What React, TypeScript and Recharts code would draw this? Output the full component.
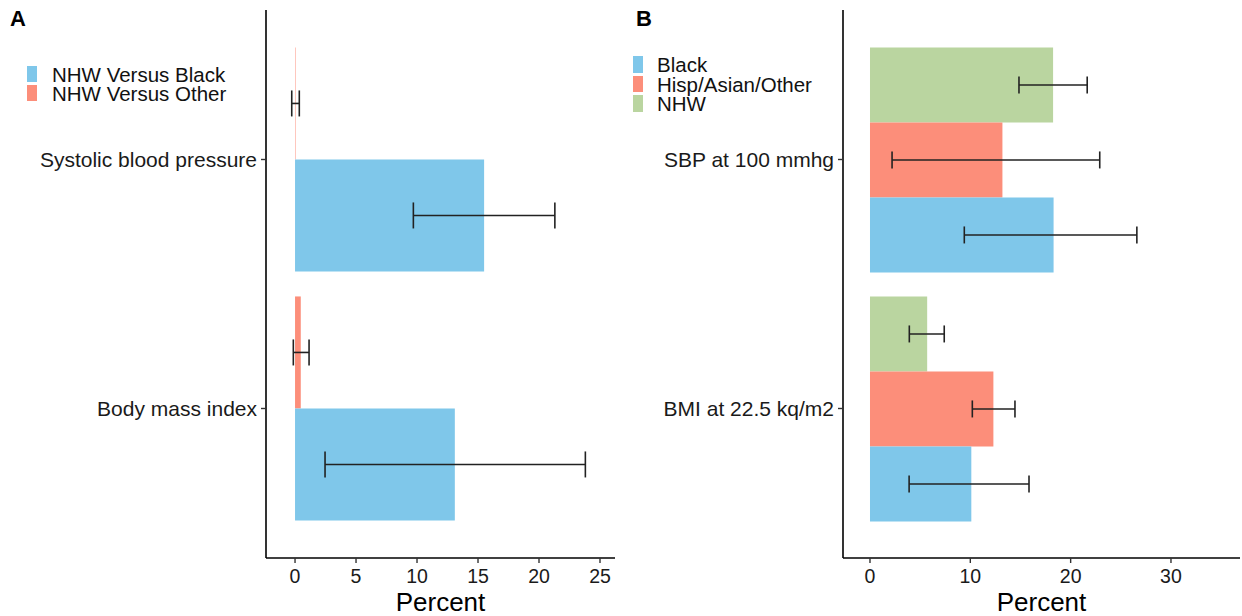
import React from 'react';
import { BarChart, Bar, XAxis, YAxis, ErrorBar, Label } from 'recharts';

// ---------- Panel A data ----------
const catsA = ['Systolic blood pressure', 'Body mass index'];
const namesA = ['NHW Versus Black', 'NHW Versus Other'];
const aBlackVal = [15.5, 13.1];
const aBlackLow = [9.7, 2.46];
const aBlackHigh = [21.3, 23.8];
const aOtherVal = [0.04, 0.47];
const aOtherLow = [-0.27, -0.14];
const aOtherHigh = [0.35, 1.15];
const ticksA = [0, 5, 10, 15, 20, 25];

// ---------- Panel B data ----------
const catsB = ['SBP at 100 mmhg', 'BMI at 22.5 kq/m2'];
const namesB = ['Black', 'Hisp/Asian/Other', 'NHW'];
const bBlackVal = [18.3, 10.1];
const bBlackLow = [9.4, 3.9];
const bBlackHigh = [26.6, 15.85];
const bHispVal = [13.2, 12.3];
const bHispLow = [2.2, 10.2];
const bHispHigh = [22.9, 14.45];
const bNhwVal = [18.25, 5.7];
const bNhwLow = [14.85, 3.92];
const bNhwHigh = [21.65, 7.4];
const ticksB = [0, 10, 20, 30];

const BLUE = '#7FC7EA';
const SALMON = '#FC8E7A';
const GREEN = '#BAD5A0';
const FONT = '"Liberation Sans", Arial, sans-serif';

const dataA = catsA.map((cat, i) => ({
  cat,
  black: aBlackVal[i],
  blackErr: [aBlackVal[i] - aBlackLow[i], aBlackHigh[i] - aBlackVal[i]],
  other: aOtherVal[i],
  otherErr: [aOtherVal[i] - aOtherLow[i], aOtherHigh[i] - aOtherVal[i]],
}));

const dataB = catsB.map((cat, i) => ({
  cat,
  black: bBlackVal[i],
  blackErr: [bBlackVal[i] - bBlackLow[i], bBlackHigh[i] - bBlackVal[i]],
  hisp: bHispVal[i],
  hispErr: [bHispVal[i] - bHispLow[i], bHispHigh[i] - bHispVal[i]],
  nhw: bNhwVal[i],
  nhwErr: [bNhwVal[i] - bNhwLow[i], bNhwHigh[i] - bNhwVal[i]],
}));

const axisLine = { stroke: '#000', strokeWidth: 1.6 };
const tickLine = { stroke: '#333', strokeWidth: 1.4 };
const tickStyle = { fill: '#1a1a1a', fontSize: 19.5, fontFamily: FONT };
const yTickStyle = { fill: '#1a1a1a', fontSize: 21, fontFamily: FONT };
const errStroke = '#222';

const Legend = ({ items, left, top, keyX, textX, rowH }: any) => (
  <div style={{ position: 'absolute', left, top, fontFamily: FONT }}>
    {items.map((it: any, i: number) => (
      <div key={it.name} style={{ position: 'absolute', top: i * rowH, left: 0, height: rowH, width: 300 }}>
        <div style={{ position: 'absolute', left: keyX, top: 1, width: 10, height: rowH - 3, background: it.color }} />
        <div style={{ position: 'absolute', left: textX, top: 0, fontSize: 20.5, lineHeight: `${rowH}px`, height: rowH, color: '#111', whiteSpace: 'nowrap' }}>
          {it.name}
        </div>
      </div>
    ))}
  </div>
);

export default function App() {
  return (
    <div style={{ position: 'absolute', left: 0, top: 0, width: 1242, height: 616, background: '#fff', overflow: 'hidden' }}>
      <div style={{ position: 'absolute', left: 0, top: 0 }}>
        <BarChart
          width={620}
          height={616}
          data={dataA}
          layout="vertical"
          margin={{ top: 10, right: 5, bottom: 0, left: 0 }}
          barGap={0}
          barCategoryGap={12.45}
        >
          <XAxis
            type="number"
            domain={[-2.38, 26.23]}
            allowDataOverflow
            ticks={ticksA}
            height={58}
            axisLine={axisLine}
            tickLine={tickLine}
            tickSize={5}
            tickMargin={6}
            tick={tickStyle}
          >
            <Label value="Percent" position="insideBottom" offset={5} fontSize={26} fill="#000" fontFamily={FONT} />
          </XAxis>
          <YAxis
            type="category"
            dataKey="cat"
            width={266}
            padding={{ top: 25, bottom: 25 }}
            axisLine={axisLine}
            tickLine={tickLine}
            tickSize={5}
            tickMargin={4}
            tick={yTickStyle}
          />
          <Bar dataKey="other" name={namesA[1]} fill={SALMON} isAnimationActive={false}>
            <ErrorBar dataKey="otherErr" direction="x" width={13} stroke={errStroke} strokeWidth={1.6} isAnimationActive={false} />
          </Bar>
          <Bar dataKey="black" name={namesA[0]} fill={BLUE} isAnimationActive={false}>
            <ErrorBar dataKey="blackErr" direction="x" width={13} stroke={errStroke} strokeWidth={1.6} isAnimationActive={false} />
          </Bar>
        </BarChart>
      </div>

      <div style={{ position: 'absolute', left: 620, top: 0 }}>
        <BarChart
          width={622}
          height={616}
          data={dataB}
          layout="vertical"
          margin={{ top: 10, right: 2, bottom: 0, left: 0 }}
          barGap={0}
          barCategoryGap={12.45}
        >
          <XAxis
            type="number"
            domain={[-2.69, 36.88]}
            allowDataOverflow
            ticks={ticksB}
            height={58}
            axisLine={axisLine}
            tickLine={tickLine}
            tickSize={5}
            tickMargin={6}
            tick={tickStyle}
          >
            <Label value="Percent" position="insideBottom" offset={5} fontSize={26} fill="#000" fontFamily={FONT} />
          </XAxis>
          <YAxis
            type="category"
            dataKey="cat"
            width={223}
            padding={{ top: 25, bottom: 25 }}
            axisLine={axisLine}
            tickLine={tickLine}
            tickSize={5}
            tickMargin={4}
            tick={yTickStyle}
          />
          <Bar dataKey="nhw" name={namesB[2]} fill={GREEN} isAnimationActive={false}>
            <ErrorBar dataKey="nhwErr" direction="x" width={8.5} stroke={errStroke} strokeWidth={1.6} isAnimationActive={false} />
          </Bar>
          <Bar dataKey="hisp" name={namesB[1]} fill={SALMON} isAnimationActive={false}>
            <ErrorBar dataKey="hispErr" direction="x" width={8.5} stroke={errStroke} strokeWidth={1.6} isAnimationActive={false} />
          </Bar>
          <Bar dataKey="black" name={namesB[0]} fill={BLUE} isAnimationActive={false}>
            <ErrorBar dataKey="blackErr" direction="x" width={8.5} stroke={errStroke} strokeWidth={1.6} isAnimationActive={false} />
          </Bar>
        </BarChart>
      </div>

      <div style={{ position: 'absolute', left: 10, top: 6, fontFamily: FONT, fontWeight: 700, fontSize: 22, color: '#000' }}>A</div>
      <div style={{ position: 'absolute', left: 636, top: 6, fontFamily: FONT, fontWeight: 700, fontSize: 22, color: '#000' }}>B</div>

      <Legend
        items={[{ name: namesA[0], color: BLUE }, { name: namesA[1], color: SALMON }]}
        left={0}
        top={65}
        keyX={27}
        textX={52}
        rowH={19}
      />
      <Legend
        items={[{ name: namesB[0], color: BLUE }, { name: namesB[1], color: SALMON }, { name: namesB[2], color: GREEN }]}
        left={606}
        top={55}
        keyX={27}
        textX={51}
        rowH={19.5}
      />
    </div>
  );
}
